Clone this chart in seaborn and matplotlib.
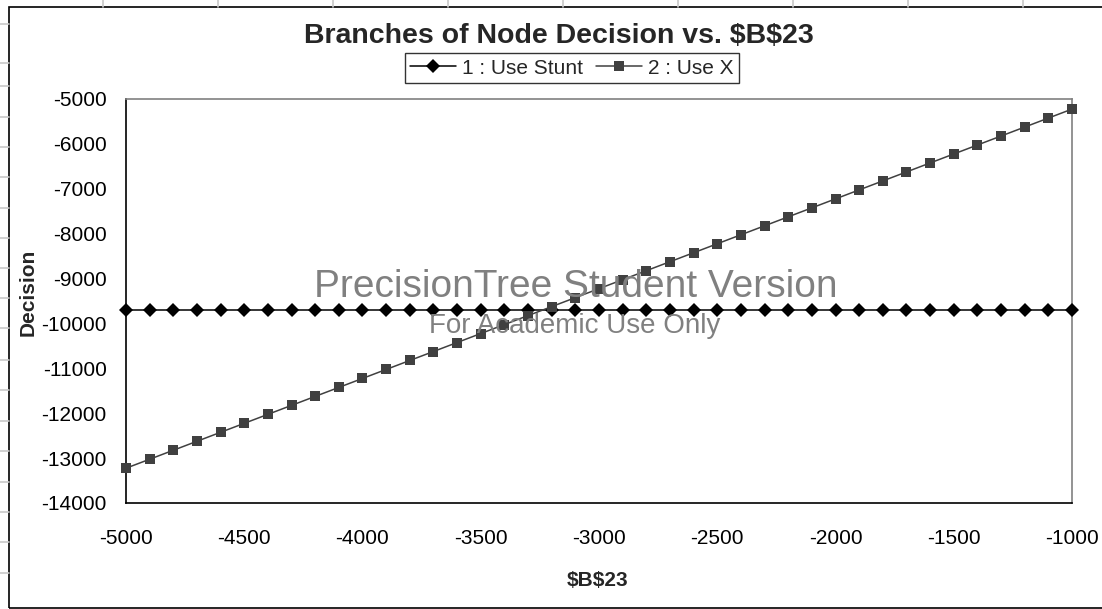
import matplotlib
matplotlib.use("Agg")
import pandas as pd
import matplotlib.pyplot as plt
import seaborn as sns
from matplotlib.lines import Line2D
from matplotlib.patches import Rectangle

# values of $B$23 on the x axis
b23_values = [-5000, -4900, -4800, -4700, -4600, -4500, -4400, -4300, -4200, -4100,
              -4000, -3900, -3800, -3700, -3600, -3500, -3400, -3300, -3200, -3100,
              -3000, -2900, -2800, -2700, -2600, -2500, -2400, -2300, -2200, -2100,
              -2000, -1900, -1800, -1700, -1600, -1500, -1400, -1300, -1200, -1100,
              -1000]

# branch 1 : Use Stunt (flat)
use_stunt = [-9710, -9710, -9710, -9710, -9710, -9710, -9710, -9710, -9710, -9710,
             -9710, -9710, -9710, -9710, -9710, -9710, -9710, -9710, -9710, -9710,
             -9710, -9710, -9710, -9710, -9710, -9710, -9710, -9710, -9710, -9710,
             -9710, -9710, -9710, -9710, -9710, -9710, -9710, -9710, -9710, -9710,
             -9710]

# branch 2 : Use X
use_x = [-13225, -13025, -12825, -12625, -12425, -12225, -12025, -11825, -11625, -11425,
         -11225, -11025, -10825, -10625, -10425, -10225, -10025, -9825, -9625, -9425,
         -9225, -9025, -8825, -8625, -8425, -8225, -8025, -7825, -7625, -7425,
         -7225, -7025, -6825, -6625, -6425, -6225, -6025, -5825, -5625, -5425,
         -5225]

series_names = ["1 : Use Stunt", "2 : Use X"]
x_ticks = [-5000, -4500, -4000, -3500, -3000, -2500, -2000, -1500, -1000]
y_ticks = [-14000, -13000, -12000, -11000, -10000, -9000, -8000, -7000, -6000, -5000]

df = pd.DataFrame({
    "b23": b23_values + b23_values,
    "value": use_stunt + use_x,
    "branch": [series_names[0]] * len(b23_values) + [series_names[1]] * len(b23_values),
})

sns.set_style("white")
plt.rcParams["font.family"] = ["Liberation Sans", "DejaVu Sans"]
plt.rcParams["axes.unicode_minus"] = False

W, H = 1102, 609
fig = plt.figure(figsize=(W / 100, H / 100), dpi=100)
fig.patch.set_facecolor("white")

# spreadsheet cell lines showing around the chart object
grid_col = "#c8c8c8"
for gx in [103, 218, 333, 448, 563, 678, 793, 908, 1023]:
    fig.add_artist(Line2D([gx / W, gx / W], [1, 1 - 7 / H], color=grid_col, lw=1.2,
                          transform=fig.transFigure))
for gy in [24, 63, 86, 117, 147, 177, 208, 238, 268, 298, 328, 360, 390, 421, 451,
           482, 512, 542, 573]:
    fig.add_artist(Line2D([0, 9 / W], [1 - gy / H, 1 - gy / H], color=grid_col, lw=1.2,
                          transform=fig.transFigure))

# chart object border
fig.add_artist(Rectangle((9 / W, 1 / H), 1.1, 1 - 8 / H, fill=False, edgecolor="black",
                         lw=1.2, transform=fig.transFigure))

ax = fig.add_axes([126 / W, 1 - 503 / H, (1072 - 126) / W, (503 - 99) / H])

sns.lineplot(data=df, x="b23", y="value", hue="branch", style="branch",
             palette={series_names[0]: "black", series_names[1]: "#404040"},
             markers={series_names[0]: "D", series_names[1]: "s"},
             dashes=False, markersize=7, markeredgewidth=0, linewidth=1.1,
             ax=ax, legend=True)
# markers sit on the axes edges without being cut
for line in ax.lines:
    line.set_clip_on(False)
    line.set_zorder(3)

ax.set_xlim(-5000, -1000)
ax.set_ylim(-14000, -5000)
ax.set_xticks(x_ticks)
ax.set_yticks(y_ticks)
ax.tick_params(axis="both", direction="inout", length=10, width=1, color="black",
               labelsize=15, labelcolor="black")
ax.tick_params(axis="x", pad=14)
ax.tick_params(axis="y", pad=9)
ax.set_xlabel("")
ax.set_ylabel("")
ax.grid(False)
for side in ["left", "bottom"]:
    ax.spines[side].set_color("black")
    ax.spines[side].set_linewidth(1.2)
for side in ["top", "right"]:
    ax.spines[side].set_color("#808080")
    ax.spines[side].set_linewidth(1.2)

leg = ax.legend(loc="center", bbox_to_anchor=(572 / W, 1 - 68 / H),
                bbox_transform=fig.transFigure, ncol=2, fontsize=15, frameon=True,
                fancybox=False, edgecolor="black", handlelength=2.2,
                handletextpad=0.3, columnspacing=0.6, borderpad=0.25,
                borderaxespad=0)
leg.get_frame().set_linewidth(1)

fig.text(558.5 / W, 1 - 43.5 / H, r"Branches of Node Decision vs. \$B\$23",
         fontsize=20.5, fontweight="bold", ha="center", va="baseline")
fig.text(28 / W, 1 - 292 / H, "Decision", fontsize=15, fontweight="bold",
         rotation=90, ha="center", va="center")
fig.text(598 / W, 1 - 586 / H, r"\$B\$23", fontsize=15, fontweight="bold",
         ha="center", va="baseline")

# watermark printed over the plot
fig.text(576 / W, 1 - 297 / H, "PrecisionTree Student Version", fontsize=28,
         color="#808080", ha="center", va="baseline", zorder=10)
fig.text(575 / W, 1 - 333 / H, "For Academic Use Only", fontsize=20,
         color="#808080", ha="center", va="baseline", zorder=10)

fig.savefig("out.png", dpi=100)
